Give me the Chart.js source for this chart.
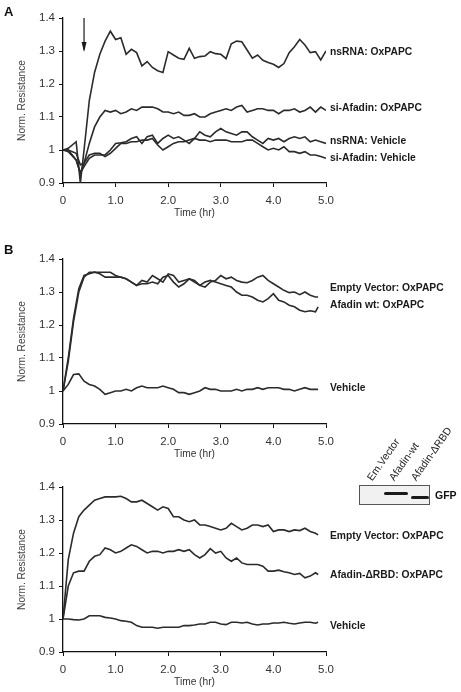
<!DOCTYPE html>
<html>
<head>
<meta charset="utf-8">
<script src="https://cdn.jsdelivr.net/npm/chart.js@4.4.1/dist/chart.umd.min.js"></script>
<style>
  body { margin: 0; background: #fff; font-family: "Liberation Sans", Arial, sans-serif; }
  #wrap { position: relative; width: 461px; height: 692px; overflow: hidden; }
  canvas { position: absolute; left: 0; top: 0; }
  .letter { position: absolute; font-weight: bold; font-size: 13px; color: #111; }
  .blot { position: absolute; left: 359px; top: 485px; width: 69px; height: 18px; border: 1px solid #555; background: #f1f1f1; }
  .band { position: absolute; background: #1a1a1a; border-radius: 2px; }
  .lane { position: absolute; font-size: 10.5px; color: #222; transform-origin: 0 100%; transform: rotate(-55deg); white-space: nowrap; line-height: 10px; }
  .gfp { position: absolute; left: 435px; top: 489px; font-size: 10.5px; font-weight: bold; color: #111; }
</style>
</head>
<body>
<div id="wrap">
  <canvas id="chartA" width="461" height="692"></canvas>
  <canvas id="chartB" width="461" height="692"></canvas>
  <canvas id="chartC" width="461" height="692"></canvas>
  <div class="letter" style="left:4px; top:4px;">A</div>
  <div class="letter" style="left:4px; top:242px;">B</div>
  <div class="lane" style="left:373px; top:472px;">Em.Vector</div>
  <div class="lane" style="left:395px; top:472px;">Afadin-wt</div>
  <div class="lane" style="left:417px; top:472px;">Afadin-ΔRBD</div>
  <div class="blot">
    <div class="band" style="left:24px; top:6px; width:24px; height:3px;"></div>
    <div class="band" style="left:51px; top:10px; width:18px; height:3px;"></div>
  </div>
  <div class="gfp">GFP</div>
</div>
<script>
// tempos (horas)
const hoursA = [0, 0.1, 0.25, 0.33, 0.4, 0.5, 0.6, 0.7, 0.8, 0.9,
  1.0, 1.1, 1.2, 1.3, 1.4, 1.5, 1.6, 1.7, 1.8, 1.9,
  2.0, 2.1, 2.2, 2.3, 2.4, 2.5, 2.6, 2.7, 2.8, 2.9,
  3.0, 3.1, 3.2, 3.3, 3.4, 3.5, 3.6, 3.7, 3.8, 3.9,
  4.0, 4.1, 4.2, 4.3, 4.4, 4.5, 4.6, 4.7, 4.8, 4.9, 5.0];

const hoursB = [0, 0.1, 0.2, 0.3, 0.4, 0.5, 0.6, 0.7, 0.8, 0.9,
  1.0, 1.1, 1.2, 1.3, 1.4, 1.5, 1.6, 1.7, 1.8, 1.9,
  2.0, 2.1, 2.2, 2.3, 2.4, 2.5, 2.6, 2.7, 2.8, 2.9,
  3.0, 3.1, 3.2, 3.3, 3.4, 3.5, 3.6, 3.7, 3.8, 3.9,
  4.0, 4.1, 4.2, 4.3, 4.4, 4.5, 4.6, 4.7, 4.8, 4.85];

// Painel A
const nsRnaOx = [1.0, 1.005, 1.025, 0.9, 1.0, 1.15, 1.235, 1.29, 1.33, 1.36,
  1.335, 1.34, 1.29, 1.305, 1.295, 1.255, 1.268, 1.25, 1.24, 1.235,
  1.298, 1.288, 1.278, 1.275, 1.308, 1.278, 1.283, 1.285, 1.298, 1.292,
  1.29, 1.277, 1.322, 1.33, 1.328, 1.303, 1.278, 1.288, 1.272, 1.265,
  1.26, 1.25, 1.262, 1.295, 1.313, 1.335, 1.318, 1.295, 1.298, 1.273, 1.3];
const siAfadinOx = [1.0, 1.0, 0.97, 0.93, 0.96, 1.02, 1.07, 1.1, 1.12, 1.115,
  1.12, 1.11, 1.115, 1.125, 1.12, 1.13, 1.13, 1.13, 1.125, 1.115,
  1.115, 1.11, 1.115, 1.105, 1.105, 1.11, 1.1, 1.1, 1.11, 1.115,
  1.12, 1.125, 1.12, 1.13, 1.135, 1.115, 1.12, 1.125, 1.125, 1.12,
  1.12, 1.11, 1.12, 1.12, 1.125, 1.115, 1.12, 1.13, 1.115, 1.13, 1.12];
const nsRnaVeh = [1.0, 0.995, 0.97, 0.93, 0.95, 0.975, 0.985, 0.985, 0.985, 1.0,
  1.02, 1.022, 1.025, 1.035, 1.04, 1.02, 1.04, 1.045, 1.02, 1.035,
  1.045, 1.035, 1.04, 1.03, 1.02, 1.035, 1.055, 1.045, 1.04, 1.055,
  1.065, 1.055, 1.05, 1.045, 1.055, 1.055, 1.04, 1.03, 1.02, 1.035,
  1.03, 1.035, 1.025, 1.035, 1.04, 1.035, 1.04, 1.025, 1.03, 1.025, 1.02];
const siAfadinVeh = [1.0, 1.0, 0.99, 0.955, 0.96, 0.985, 0.99, 0.99, 0.98, 0.99,
  1.005, 1.02, 1.02, 1.025, 1.025, 1.03, 1.03, 1.035, 1.015, 1.0,
  1.01, 1.02, 1.025, 1.025, 1.03, 1.035, 1.03, 1.03, 1.025, 1.03,
  1.03, 1.03, 1.025, 1.025, 1.025, 1.03, 1.03, 1.02, 1.01, 1.0,
  1.005, 1.0, 1.01, 0.995, 0.995, 0.99, 0.995, 0.985, 0.985, 0.98, 0.975];

// Painel B
const emptyB = [1.0, 1.1, 1.22, 1.31, 1.35, 1.355, 1.36, 1.355, 1.345, 1.345,
  1.345, 1.345, 1.34, 1.33, 1.32, 1.335, 1.33, 1.35, 1.34, 1.33,
  1.355, 1.35, 1.33, 1.335, 1.34, 1.335, 1.32, 1.315, 1.33, 1.335,
  1.35, 1.34, 1.345, 1.335, 1.33, 1.328, 1.335, 1.345, 1.35, 1.335,
  1.325, 1.315, 1.305, 1.298, 1.3, 1.292, 1.3, 1.29, 1.285, 1.285];
const afadinWtB = [1.0, 1.09, 1.21, 1.3, 1.345, 1.36, 1.36, 1.36, 1.36, 1.36,
  1.35, 1.345, 1.34, 1.33, 1.32, 1.325, 1.325, 1.33, 1.325, 1.345,
  1.35, 1.33, 1.315, 1.325, 1.34, 1.33, 1.32, 1.33, 1.335, 1.33,
  1.325, 1.32, 1.315, 1.3, 1.29, 1.29, 1.285, 1.275, 1.27, 1.28,
  1.295, 1.275, 1.27, 1.26, 1.255, 1.245, 1.24, 1.243, 1.24, 1.255];
const vehicleB = [1.0, 1.02, 1.05, 1.052, 1.03, 1.02, 1.015, 1.005, 0.99, 0.995,
  1.0, 1.0, 1.005, 1.0, 1.01, 1.015, 1.01, 1.01, 1.01, 1.015,
  1.01, 1.005, 0.995, 0.995, 0.99, 0.995, 1.0, 1.01, 1.005, 1.005,
  1.0, 1.0, 1.0, 1.005, 1.0, 1.005, 1.005, 1.01, 1.005, 1.01,
  1.01, 1.01, 1.005, 1.005, 1.0, 1.005, 1.01, 1.005, 1.005, 1.005];

// Painel C
const emptyC = [1.0, 1.18, 1.26, 1.31, 1.33, 1.345, 1.36, 1.365, 1.37, 1.37,
  1.37, 1.372, 1.365, 1.355, 1.355, 1.36, 1.35, 1.34, 1.33, 1.34,
  1.335, 1.31, 1.31, 1.3, 1.295, 1.3, 1.285, 1.285, 1.28, 1.275,
  1.27, 1.275, 1.29, 1.28, 1.27, 1.275, 1.285, 1.285, 1.28, 1.285,
  1.265, 1.27, 1.27, 1.265, 1.27, 1.268, 1.275, 1.265, 1.26, 1.255];
const rbdC = [1.0, 1.1, 1.14, 1.145, 1.145, 1.175, 1.19, 1.195, 1.215, 1.21,
  1.2, 1.205, 1.215, 1.225, 1.22, 1.21, 1.2, 1.205, 1.205, 1.2,
  1.205, 1.205, 1.21, 1.205, 1.21, 1.195, 1.185, 1.195, 1.213, 1.2,
  1.205, 1.185, 1.175, 1.185, 1.17, 1.165, 1.165, 1.165, 1.16, 1.145,
  1.145, 1.148, 1.143, 1.14, 1.135, 1.138, 1.125, 1.13, 1.14, 1.135];
const vehicleC = [1.0, 1.0, 0.998, 0.997, 1.0, 1.01, 1.01, 1.01, 1.005, 1.003,
  1.0, 0.995, 0.993, 0.99, 0.98, 0.975, 0.975, 0.975, 0.972, 0.975,
  0.975, 0.975, 0.975, 0.98, 0.98, 0.982, 0.985, 0.985, 0.99, 0.99,
  0.985, 0.983, 0.99, 0.99, 0.988, 0.99, 0.985, 0.982, 0.985, 0.985,
  0.988, 0.988, 0.99, 0.987, 0.985, 0.988, 0.99, 0.99, 0.987, 0.99];

const FONT = '"Liberation Sans", Arial, sans-serif';
const PAGE_H = 692;

// Função para criar um painel
function makePanel(id, hours, seriesList, labels, plotTop, plotBottom, arrow) {
  const ctx = document.getElementById(id).getContext("2d");
  const datasets = seriesList.map((values) => ({
    data: values.map((v, i) => ({ x: hours[i], y: v })),
    borderColor: "#2b2b2b",
    borderWidth: 1.6,
    pointRadius: 0,
    fill: false,
    tension: 0,
  }));

  const labelPlugin = {
    id: "labels_" + id,
    afterDraw(chart) {
      const c = chart.ctx;
      const ys = chart.scales.y;
      const xs = chart.scales.x;
      c.save();
      c.fillStyle = "#1a1a1a";
      c.font = "bold 10.3px " + FONT;
      c.textBaseline = "middle";
      labels.forEach(([text, value]) => {
        c.fillText(text, chart.chartArea.right + 4, ys.getPixelForValue(value));
      });
      if (arrow) {
        const x = xs.getPixelForValue(arrow.x);
        const y1 = ys.getPixelForValue(arrow.from);
        const y2 = ys.getPixelForValue(arrow.to);
        c.strokeStyle = "#1a1a1a";
        c.lineWidth = 1.2;
        c.beginPath();
        c.moveTo(x, y1);
        c.lineTo(x, y2 - 2);
        c.stroke();
        c.beginPath();
        c.moveTo(x - 2.5, y2 - 10);
        c.lineTo(x, y2);
        c.lineTo(x + 2.5, y2 - 10);
        c.closePath();
        c.fill();
      }
      c.restore();
    },
  };

  return new Chart(ctx, {
    type: "line",
    data: { datasets: datasets },
    options: {
      responsive: false,
      animation: false,
      layout: { padding: { left: 0, right: 135, top: plotTop, bottom: PAGE_H - plotBottom - 39 } },
      plugins: { legend: { display: false }, tooltip: { enabled: false } },
      scales: {
        x: {
          type: "linear",
          min: 0,
          max: 5,
          afterFit: (s) => { s.height = 39; },
          border: { display: true, color: "#111", width: 1.3 },
          grid: { drawOnChartArea: false, drawTicks: true, tickLength: 4, color: "#111" },
          ticks: {
            stepSize: 1,
            padding: 7,
            color: "#333",
            font: { family: FONT, size: 11.5 },
            callback: (v) => (v === 0 ? "0" : v.toFixed(1)),
          },
          title: { display: true, text: "Time (hr)", color: "#333", font: { family: FONT, size: 10.2 }, padding: { top: 0, bottom: 3 } },
        },
        y: {
          min: 0.9,
          max: 1.4,
          afterFit: (s) => { s.width = 63; },
          border: { display: true, color: "#111", width: 1.3 },
          grid: { drawOnChartArea: false, drawTicks: true, tickLength: 4, color: "#111" },
          ticks: {
            stepSize: 0.1,
            padding: 4,
            color: "#333",
            font: { family: FONT, size: 11.5 },
            callback: (v) => (Math.abs(v - 1) < 1e-6 ? "1" : v.toFixed(1)),
          },
          title: { display: true, text: "Norm. Resistance", color: "#444", font: { family: FONT, size: 10.2 }, padding: { top: 16, bottom: 4 } },
        },
      },
    },
    plugins: [labelPlugin],
  });
}

makePanel("chartA", hoursA, [nsRnaOx, siAfadinOx, nsRnaVeh, siAfadinVeh],
  [["nsRNA: OxPAPC", 1.297], ["si-Afadin: OxPAPC", 1.127], ["nsRNA: Vehicle", 1.027], ["si-Afadin: Vehicle", 0.976]],
  18, 183, { x: 0.4, from: 1.4, to: 1.297 });

makePanel("chartB", hoursB, [emptyB, afadinWtB, vehicleB],
  [["Empty Vector: OxPAPC", 1.312], ["Afadin wt: OxPAPC", 1.261], ["Vehicle", 1.01]],
  259, 424, null);

makePanel("chartC", hoursB, [emptyC, rbdC, vehicleC],
  [["Empty Vector: OxPAPC", 1.25], ["Afadin-ΔRBD: OxPAPC", 1.134], ["Vehicle", 0.978]],
  487, 652, null);
</script>
</body>
</html>
